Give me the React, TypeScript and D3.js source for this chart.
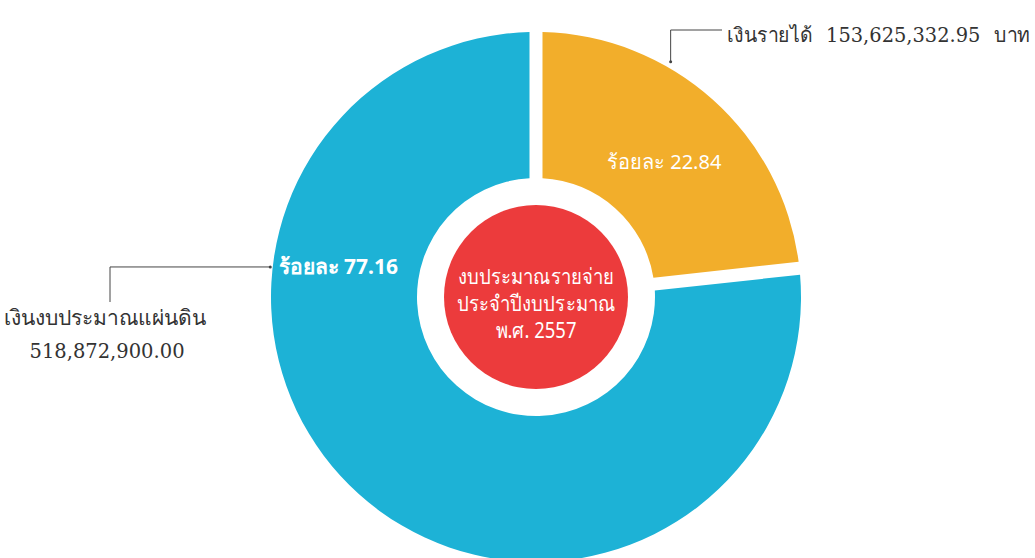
import * as d3 from 'd3';

const CATEGORIES = ['เงินรายได้', 'เงินงบประมาณแผ่นดิน'];
const AMOUNTS = [153625332.95, 518872900.0];
const PERCENT_LABELS = ['ร้อยละ 22.84', 'ร้อยละ 77.16'];
const AMOUNT_LABELS = ['153,625,332.95', '518,872,900.00'];
const UNIT = 'บาท';
const CENTER_LINES = ['งบประมาณรายจ่าย', 'ประจำปีงบประมาณ', 'พ.ศ. 2557'];
const COLORS = ['#f2ae2b', '#1db2d6'];

const WIDTH = 1035;
const HEIGHT = 558;
const CX = 536;
const CY = 297;
const OUTER_R = 265;
const INNER_R = 119;
const CORE_R = 92;
const GAP = 13;

const THAI_SERIF = '"DejaVu Serif", "Liberation Serif", serif';
const THAI_SANS = '"Noto Sans", sans-serif';

export default function App() {
  const pie = d3
    .pie<number>()
    .sort(null)
    .value((d) => d)
    .padAngle(GAP / OUTER_R);
  const arcs = pie(AMOUNTS);

  const arc = d3
    .arc<d3.PieArcDatum<number>>()
    .innerRadius(INNER_R)
    .outerRadius(OUTER_R)
    .padRadius(OUTER_R);

  // polar helper, angle clockwise from 12 o'clock
  const polar = (r: number, a: number) => [r * Math.sin(a), -r * Math.cos(a)];

  const orange = arcs[0];
  const orangeMid = (orange.startAngle + orange.endAngle) / 2;
  const [ox, oy] = polar(192, orangeMid);
  const [bx, by] = polar(200, -1.42);

  // leader for top-right label
  const [lx0, ly0] = polar(OUTER_R + 6, 0.52);
  const topY = 30 - CY;
  const topX2 = 722 - CX;

  // leader for left label
  const leftStartX = bx - 68;
  const leftY = by;
  const leftX2 = 110 - CX;
  const leftDownY = 302 - CY;

  return (
    <svg
      width={WIDTH}
      height={HEIGHT}
      viewBox={`0 0 ${WIDTH} ${HEIGHT}`}
      style={{ position: 'absolute', left: 0, top: 0, background: '#fff' }}
    >
      <g transform={`translate(${CX},${CY})`}>
        {arcs.map((a, i) => (
          <path key={CATEGORIES[i]} d={arc(a) ?? ''} fill={COLORS[i]} />
        ))}

        <circle r={CORE_R} fill="#ec3b3c" />
        <g transform="scale(0.86,1)">
          {CENTER_LINES.map((t, i) => (
            <text
              key={t}
              x={0}
              y={14 + (i - 1) * 27}
              textAnchor="middle"
              fill="#fff"
              fontSize={21.5}
              fontFamily={THAI_SANS}
            >
              {t}
            </text>
          ))}
        </g>

        {/* slice labels */}
        <text
          x={ox}
          y={oy + 8}
          dy="0.35em"
          textAnchor="middle"
          fill="#fff"
          fontSize={20}
          fontFamily={THAI_SANS}
        >
          {PERCENT_LABELS[0]}
        </text>
        <text
          x={bx}
          y={by}
          dy="0.35em"
          textAnchor="middle"
          fill="#fff"
          fontSize={21}
          fontWeight={700}
          fontFamily={THAI_SANS}
        >
          {PERCENT_LABELS[1]}
        </text>

        {/* leader lines */}
        <polyline
          points={`${lx0},${ly0} ${lx0},${topY} ${topX2},${topY}`}
          fill="none"
          stroke="#444"
          strokeWidth={1}
        />
        <circle cx={lx0} cy={ly0} r={1.5} fill="#444" />
        <polyline
          points={`${leftStartX},${leftY} ${leftX2},${leftY} ${leftX2},${leftDownY}`}
          fill="none"
          stroke="#444"
          strokeWidth={1}
        />
        <circle cx={leftStartX} cy={leftY} r={1.5} fill="#444" />

        {/* outside labels */}
        <text
          x={topX2 + 5}
          y={topY + 12}
          fill="#333"
          fontSize={20}
          fontFamily={THAI_SERIF}
          textLength={303}
          lengthAdjust="spacingAndGlyphs"
        >
          <tspan>{CATEGORIES[0]}</tspan>
          <tspan dx={14}>{AMOUNT_LABELS[0]}</tspan>
          <tspan dx={14}>{UNIT}</tspan>
        </text>
        <text
          x={leftX2 - 5}
          y={leftDownY + 23}
          textAnchor="middle"
          fill="#333"
          fontSize={21}
          fontFamily={THAI_SERIF}
        >
          {CATEGORIES[1]}
        </text>
        <text
          x={leftX2 - 3}
          y={leftDownY + 56}
          textAnchor="middle"
          fill="#333"
          fontSize={19.5}
          fontFamily={THAI_SERIF}
        >
          {AMOUNT_LABELS[1]}
        </text>
      </g>
    </svg>
  );
}
